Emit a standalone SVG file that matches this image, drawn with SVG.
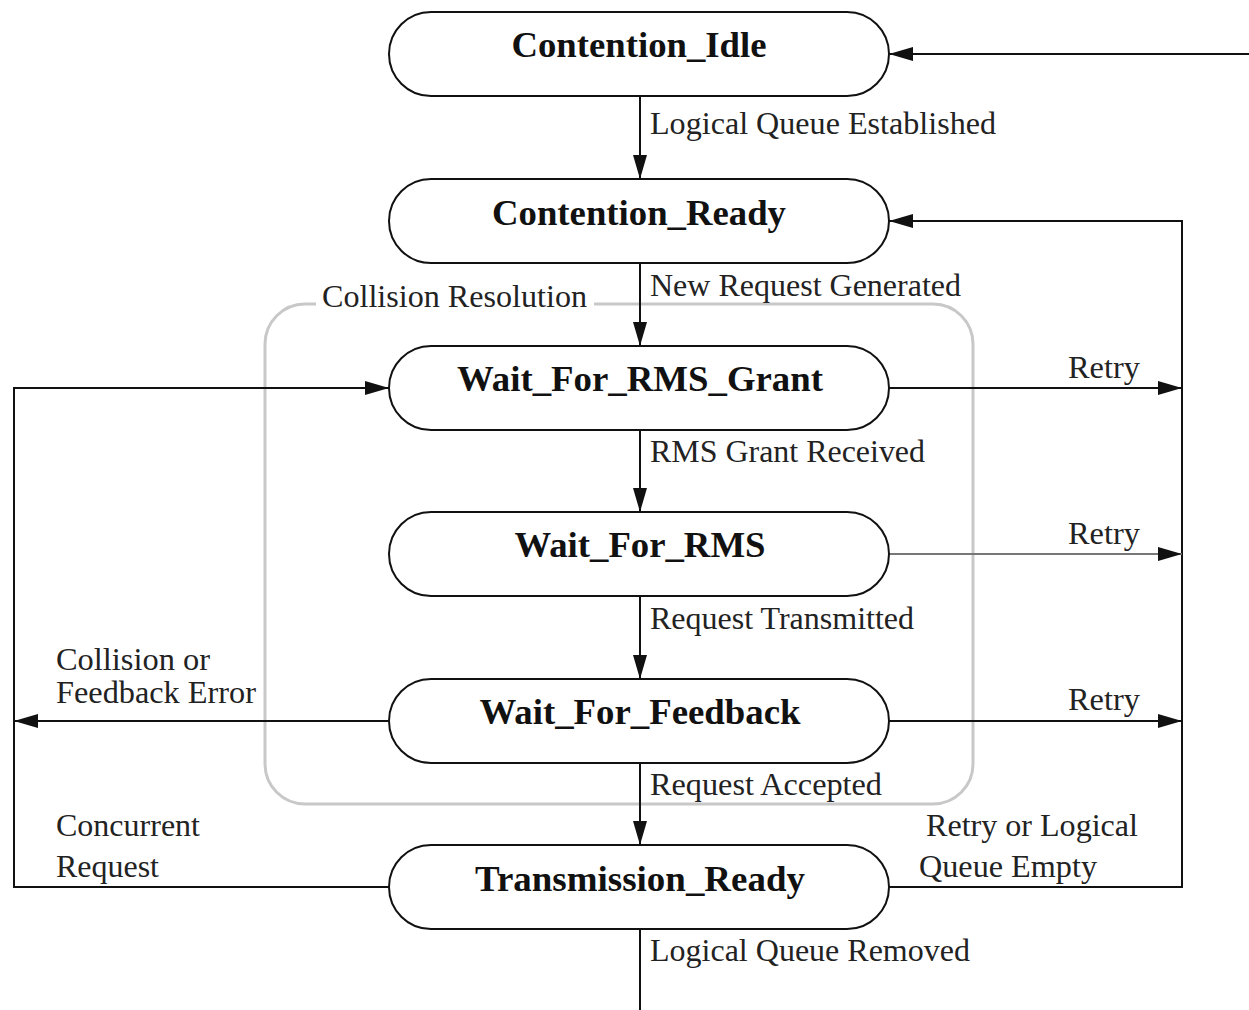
<svg xmlns="http://www.w3.org/2000/svg" width="1249" height="1010" viewBox="0 0 1249 1010">
<style>
.node rect{fill:#fff;stroke:#111;stroke-width:2}
.title{font-family:"Liberation Serif","Times New Roman",serif;font-weight:bold;font-size:35px;fill:#111;text-anchor:middle}
.lbl{font-family:"Liberation Serif","Times New Roman",serif;font-size:31px;fill:#222}
.ln{fill:none;stroke:#111;stroke-width:2}
.gray{stroke:#777}
</style>
<defs>
<marker id="ah" viewBox="0 0 24 14" refX="24" refY="7" markerWidth="24" markerHeight="14" markerUnits="userSpaceOnUse" orient="auto">
<path d="M0,0 L24,7 L0,14 Z" fill="#111"/>
</marker>
</defs>
<g id="cluster">
<rect x="265" y="304" width="708" height="500" rx="40" fill="none" stroke="#c8c8c8" stroke-width="3"/>
<rect x="316" y="290" width="278" height="28" fill="#fff"/>
<text class="lbl" x="322" y="307" textLength="265" lengthAdjust="spacingAndGlyphs">Collision Resolution</text>
</g>
<g id="connectors">
<line class="ln" x1="640" y1="96" x2="640" y2="179" marker-end="url(#ah)"/>
<line class="ln" x1="640" y1="263" x2="640" y2="346" marker-end="url(#ah)"/>
<line class="ln" x1="640" y1="430" x2="640" y2="512" marker-end="url(#ah)"/>
<line class="ln" x1="640" y1="596" x2="640" y2="679" marker-end="url(#ah)"/>
<line class="ln" x1="640" y1="763" x2="640" y2="845" marker-end="url(#ah)"/>
<line class="ln" x1="640" y1="929" x2="640" y2="1010"/>
<line class="ln" x1="1249" y1="54" x2="889" y2="54" stroke="#444" marker-end="url(#ah)"/>
<polyline class="ln" points="889,887 1182,887 1182,221 889,221" marker-end="url(#ah)"/>
<line class="ln" x1="889" y1="388" x2="1182" y2="388" marker-end="url(#ah)"/>
<line class="ln gray" x1="889" y1="554" x2="1182" y2="554" marker-end="url(#ah)"/>
<line class="ln" x1="889" y1="721" x2="1182" y2="721" marker-end="url(#ah)"/>
<polyline class="ln" points="389,887 14,887 14,388 389,388" marker-end="url(#ah)"/>
<line class="ln" x1="389" y1="721" x2="14" y2="721" marker-end="url(#ah)"/>
<text class="lbl" x="650" y="134" textLength="346" lengthAdjust="spacingAndGlyphs">Logical Queue Established</text>
<text class="lbl" x="650" y="296" textLength="311" lengthAdjust="spacingAndGlyphs">New Request Generated</text>
<text class="lbl" x="650" y="462" textLength="275" lengthAdjust="spacingAndGlyphs">RMS Grant Received</text>
<text class="lbl" x="650" y="629" textLength="264" lengthAdjust="spacingAndGlyphs">Request Transmitted</text>
<text class="lbl" x="650" y="795" textLength="232" lengthAdjust="spacingAndGlyphs">Request Accepted</text>
<text class="lbl" x="650" y="961" textLength="320" lengthAdjust="spacingAndGlyphs">Logical Queue Removed</text>
<text class="lbl" x="1068" y="378" textLength="72" lengthAdjust="spacingAndGlyphs">Retry</text>
<text class="lbl" x="1068" y="544" textLength="72" lengthAdjust="spacingAndGlyphs">Retry</text>
<text class="lbl" x="1068" y="710" textLength="72" lengthAdjust="spacingAndGlyphs">Retry</text>
<text class="lbl" x="56" y="670" textLength="154" lengthAdjust="spacingAndGlyphs">Collision or</text>
<text class="lbl" x="56" y="703" textLength="200" lengthAdjust="spacingAndGlyphs">Feedback Error</text>
<text class="lbl" x="56" y="836" textLength="144" lengthAdjust="spacingAndGlyphs">Concurrent</text>
<text class="lbl" x="56" y="877" textLength="103" lengthAdjust="spacingAndGlyphs">Request</text>
<text class="lbl" x="926" y="836" textLength="212" lengthAdjust="spacingAndGlyphs">Retry or Logical</text>
<text class="lbl" x="919" y="877" textLength="178" lengthAdjust="spacingAndGlyphs">Queue Empty</text>
</g>
<g id="n_contention_idle" class="node"><rect x="389" y="12" width="500" height="84" rx="42"/><text class="title" x="639" y="57" textLength="255" lengthAdjust="spacingAndGlyphs">Contention_Idle</text></g>
<g id="n_contention_ready" class="node"><rect x="389" y="179" width="500" height="84" rx="42"/><text class="title" x="639" y="225" textLength="294" lengthAdjust="spacingAndGlyphs">Contention_Ready</text></g>
<g id="n_wait_for_rms_grant" class="node"><rect x="389" y="346" width="500" height="84" rx="42"/><text class="title" x="640" y="391" textLength="366" lengthAdjust="spacingAndGlyphs">Wait_For_RMS_Grant</text></g>
<g id="n_wait_for_rms" class="node"><rect x="389" y="512" width="500" height="84" rx="42"/><text class="title" x="640" y="557" textLength="251" lengthAdjust="spacingAndGlyphs">Wait_For_RMS</text></g>
<g id="n_wait_for_feedback" class="node"><rect x="389" y="679" width="500" height="84" rx="42"/><text class="title" x="640" y="724" textLength="321" lengthAdjust="spacingAndGlyphs">Wait_For_Feedback</text></g>
<g id="n_transmission_ready" class="node"><rect x="389" y="845" width="500" height="84" rx="42"/><text class="title" x="640" y="891" textLength="330" lengthAdjust="spacingAndGlyphs">Transmission_Ready</text></g>
</svg>
